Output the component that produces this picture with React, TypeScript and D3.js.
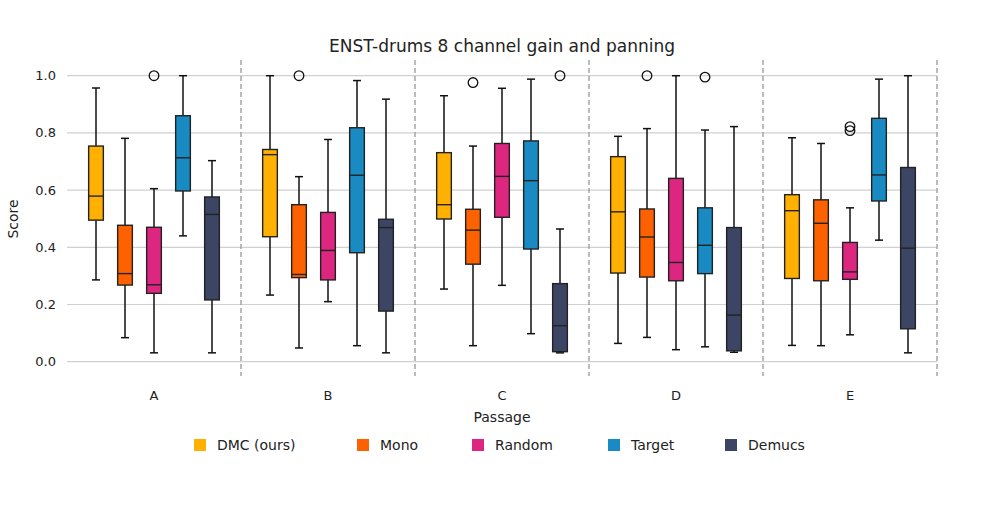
import React from "react";
import * as d3 from "d3";

const passages = ["A", "B", "C", "D", "E"];
const methods = ["DMC (ours)", "Mono", "Random", "Target", "Demucs"];
const colors = ["#FFB000", "#FE6100", "#DC267F", "#1A8BC2", "#3C4664"];
// [whiskerLow, q1, median, q3, whiskerHigh] per passage per method
const statsDMC = [[0.286,0.495,0.579,0.754,0.957],[0.233,0.437,0.724,0.742,1.0],[0.254,0.499,0.549,0.731,0.930],[0.064,0.31,0.524,0.717,0.788],[0.057,0.291,0.528,0.584,0.783]];
const statsMono = [[0.084,0.268,0.308,0.477,0.781],[0.048,0.294,0.305,0.549,0.647],[0.056,0.341,0.460,0.533,0.754],[0.085,0.296,0.436,0.534,0.815],[0.056,0.283,0.484,0.566,0.763]];
const statsRandom = [[0.031,0.239,0.269,0.470,0.605],[0.21,0.286,0.389,0.522,0.777],[0.267,0.505,0.648,0.763,0.956],[0.042,0.283,0.347,0.641,1.0],[0.094,0.288,0.314,0.417,0.538]];
const statsTarget = [[0.44,0.597,0.713,0.860,1.0],[0.056,0.381,0.652,0.818,0.983],[0.098,0.394,0.633,0.772,0.988],[0.052,0.308,0.407,0.538,0.810],[0.425,0.562,0.653,0.851,0.988]];
const statsDemucs = [[0.031,0.216,0.515,0.576,0.703],[0.031,0.177,0.469,0.498,0.918],[0.031,0.035,0.126,0.273,0.464],[0.033,0.038,0.163,0.469,0.822],[0.031,0.115,0.397,0.679,1.0]];
const outliersDMC = [[],[],[],[],[]];
const outliersMono = [[],[1.0],[0.976],[1.0],[]];
const outliersRandom = [[1.0],[],[],[],[0.822,0.808]];
const outliersTarget = [[],[],[],[0.995],[]];
const outliersDemucs = [[],[],[1.0],[],[]];
const yTicks = [0, 0.2, 0.4, 0.6, 0.8, 1.0];

const allStats = [statsDMC, statsMono, statsRandom, statsTarget, statsDemucs];
const allOut = [outliersDMC, outliersMono, outliersRandom, outliersTarget, outliersDemucs];

export default function App() {
  const W = 1003, H = 517;
  const x = d3.scaleBand().domain(passages).range([67, 937]);
  const y = d3.scaleLinear().domain([0, 1]).range([361.7, 75.7]);
  const inner = d3.scaleBand().domain(methods).range([-72.5, 72.5]).paddingInner(0.97).paddingOuter(0);
  const bw = 14.7;
  const step = 29;
  const font = "DejaVu Sans, sans-serif";
  const legendX = [200, 363, 478, 614, 731];
  return (
    <svg width={W} height={H} style={{ position: "absolute", left: 0, top: 0 }} fontFamily={font}>
      <rect width={W} height={H} fill="white" />
      {yTicks.map((t) => (
        <g key={t}>
          <line x1={67} x2={937} y1={y(t)} y2={y(t)} stroke="#d0d0d0" strokeWidth={1.2} />
          <text x={56} y={y(t)} dy="0.35em" textAnchor="end" fontSize={13} fill="#222">{t.toFixed(1)}</text>
        </g>
      ))}
      {passages.map((p) => (
        <line key={p} x1={x(p)! + x.bandwidth()} x2={x(p)! + x.bandwidth()} y1={60} y2={376} stroke="#999" strokeDasharray="5,3" strokeWidth={1.3} />
      ))}
      {passages.map((p, pi) => {
        const c = x(p)! + x.bandwidth() / 2;
        return methods.map((m, mi) => {
          const s = allStats[mi][pi];
          const cx = c + (mi - 2) * step;
          return (
            <g key={p + m}>
              <line x1={cx} x2={cx} y1={y(s[0])} y2={y(s[1])} stroke="#111" strokeWidth={1.5} />
              <line x1={cx} x2={cx} y1={y(s[3])} y2={y(s[4])} stroke="#111" strokeWidth={1.5} />
              <line x1={cx - 4} x2={cx + 4} y1={y(s[0])} y2={y(s[0])} stroke="#111" strokeWidth={1.5} />
              <line x1={cx - 4} x2={cx + 4} y1={y(s[4])} y2={y(s[4])} stroke="#111" strokeWidth={1.5} />
              <rect x={cx - bw / 2} y={y(s[3])} width={bw} height={y(s[1]) - y(s[3])} fill={colors[mi]} stroke="#222" strokeWidth={1.4} />
              <line x1={cx - bw / 2} x2={cx + bw / 2} y1={y(s[2])} y2={y(s[2])} stroke="#222" strokeWidth={1.4} />
              {allOut[mi][pi].map((o, k) => (
                <circle key={k} cx={cx} cy={y(o)} r={4.8} fill="none" stroke="#111" strokeWidth={1.3} />
              ))}
            </g>
          );
        });
      })}
      {passages.map((p) => (
        <text key={p} x={x(p)! + x.bandwidth() / 2} y={400} textAnchor="middle" fontSize={13} fill="#222">{p}</text>
      ))}
      <text x={502} y={422} textAnchor="middle" fontSize={14} fill="#222">Passage</text>
      <text transform="translate(18,219) rotate(-90)" textAnchor="middle" fontSize={14} fill="#222">Score</text>
      <text x={502} y={52} textAnchor="middle" fontSize={17} fill="#222">ENST-drums 8 channel gain and panning</text>
      {methods.map((m, i) => (
        <g key={m}>
          <rect x={legendX[i] - 6} y={439} width={12} height={12} fill={colors[i]} />
          <text x={legendX[i] + 17} y={445} dy="0.35em" fontSize={14} fill="#222">{m}</text>
        </g>
      ))}
    </svg>
  );
}
